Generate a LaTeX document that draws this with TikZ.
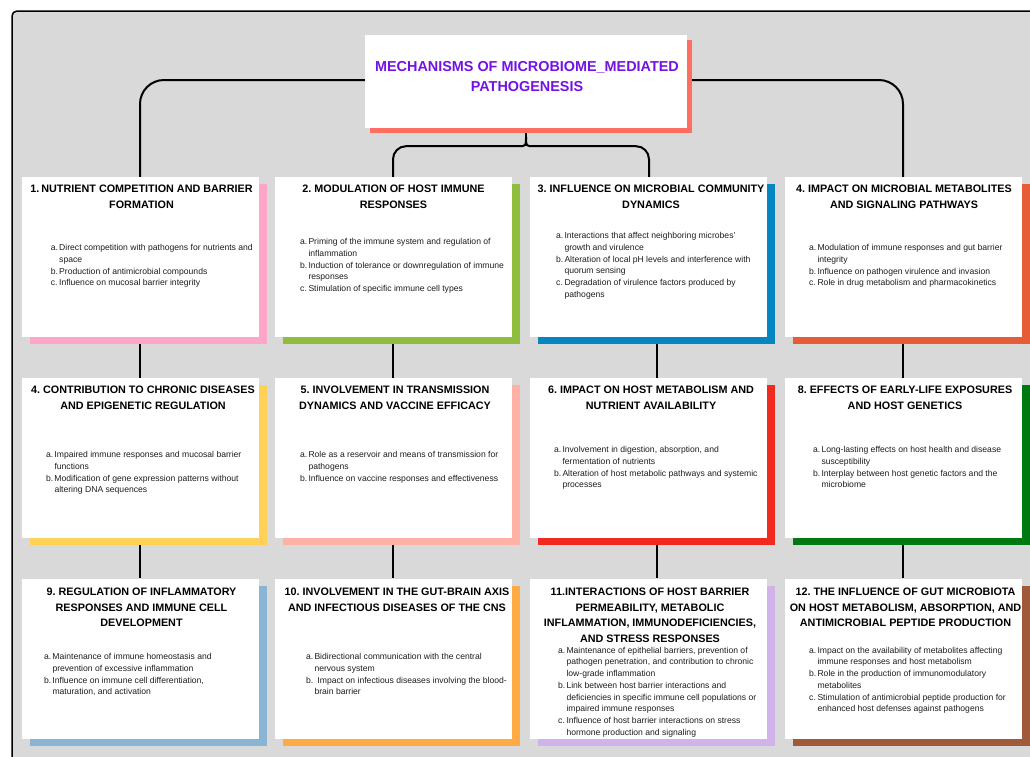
\documentclass[tikz,border=0pt]{standalone}
\usepackage{fontspec}
\setmainfont{Liberation Sans}
\usetikzlibrary{shadows}
\definecolor{panel}{HTML}{D9D9D9}
\definecolor{titleshadow}{HTML}{FF6E61}
\definecolor{titlecol}{HTML}{7412E6}
\definecolor{bodytext}{HTML}{1E1E1E}
\definecolor{c1}{HTML}{FFA6C8}
\definecolor{c2}{HTML}{8FBE3C}
\definecolor{c3}{HTML}{0586C0}
\definecolor{c4}{HTML}{E65C36}
\definecolor{c5}{HTML}{FFD257}
\definecolor{c6}{HTML}{FFB1A6}
\definecolor{c7}{HTML}{F02A1E}
\definecolor{c8}{HTML}{007A10}
\definecolor{c9}{HTML}{89B4D4}
\definecolor{c10}{HTML}{FFAB45}
\definecolor{c11}{HTML}{D1B3EC}
\definecolor{c12}{HTML}{A05A3A}
\pgfdeclarelayer{back}
\pgfdeclarelayer{lines}
\pgfsetlayers{back,lines,main}
\newcommand{\lbl}[1]{\makebox[8.3pt][l]{#1}}
\newcommand{\ind}{\hspace*{8.3pt}}
\frenchspacing
\begin{document}
\begin{tikzpicture}[x=1pt,y=-1pt,
  box/.style={fill=white, minimum width=237pt, minimum height=160pt, inner sep=0pt, draw=none},
  sh/.style={drop shadow={shadow xshift=8pt, shadow yshift=-7pt, fill=#1, opacity=1}},
  head/.style={font=\fontsize{10.8}{15.5}\selectfont\bfseries\frenchspacing, align=center, anchor=north, inner sep=0pt},
  body/.style={font=\fontsize{8.6}{11.9}\selectfont\frenchspacing, align=left, anchor=north west, inner sep=0pt, text=bodytext},
  conn/.style={line width=2pt, black}]
\useasboundingbox (0,0) rectangle (1030,756);
\begin{pgfonlayer}{back}
  \fill[white] (0,0) rectangle (1030,756);
  \draw[fill=panel, line width=1.5pt, rounded corners=5pt] (12,11) rectangle (1060,790);
\end{pgfonlayer}

% title
\node[fill=white, minimum width=322pt, minimum height=93pt, inner sep=0pt,
      drop shadow={shadow xshift=5pt, shadow yshift=-5pt, fill=titleshadow, opacity=1}] (title) at (526,81.5) {};
\node[font=\fontsize{14.4}{20}\selectfont\bfseries, text=titlecol, align=center, inner sep=0pt] (ttext) at (527,77)
  {MECHANISMS OF MICROBIOME\_MEDIATED\\PATHOGENESIS};

% boxes
\node[box, sh=c1] (b1) at (140,257) {};
\node[box, sh=c2] (b2) at (393,257) {};
\node[box, sh=c3] (b3) at (648.5,257) {};
\node[box, sh=c4] (b4) at (903,257) {};
\node[box, sh=c5] (b5) at (140,458) {};
\node[box, sh=c6] (b6) at (393,458) {};
\node[box, sh=c7] (b7) at (648.5,458) {};
\node[box, sh=c8] (b8) at (903,458) {};
\node[box, sh=c9] (b9) at (140,658.5) {};
\node[box, sh=c10] (b10) at (393,658.5) {};
\node[box, sh=c11] (b11) at (648.5,658.5) {};
\node[box, sh=c12] (b12) at (903,658.5) {};

% connectors
\begin{pgfonlayer}{lines}
  \draw[conn, rounded corners=24pt] ([yshift=1.5pt]title.west) -| (b1.north);
  \draw[conn, rounded corners=24pt] ([yshift=1.5pt]title.east) -| (b4.north);
  \coordinate (bt) at ([yshift=-9pt]title.south);
  \draw[conn] (title.south) -- (bt);
  \draw[conn] (bt) .. controls ([yshift=-9pt]bt) .. ([shift={(-8pt,-9pt)}]bt) [rounded corners=13pt] -| (b2.north);
  \draw[conn] (bt) .. controls ([yshift=-9pt]bt) .. ([shift={(8pt,-9pt)}]bt) [rounded corners=13pt] -| ([xshift=0.5pt]b3.north);
  \draw[conn] (b1.south) -- (b5.north);
  \draw[conn] (b5.south) -- (b9.north);
  \draw[conn] (b2.south) -- (b6.north);
  \draw[conn] (b6.south) -- (b10.north);
  \draw[conn] ([xshift=8.5pt]b3.south) -- ([xshift=8.5pt]b7.north);
  \draw[conn] ([xshift=8.5pt]b7.south) -- ([xshift=8.5pt]b11.north);
  \draw[conn] (b4.south) -- (b8.north);
  \draw[conn] (b8.south) -- (b12.north);
\end{pgfonlayer}

% headings
\node[head] (h1) at (141.5,185.1) {1.\hspace{2pt}NUTRIENT COMPETITION AND BARRIER\\FORMATION};
\node[head] (h2) at (393.5,185.1) {2. MODULATION OF HOST IMMUNE\\RESPONSES};
\node[head] (h3) at (651,185.1) {3. INFLUENCE ON MICROBIAL COMMUNITY\\DYNAMICS};
\node[head] (h4) at (904,185.1) {4. IMPACT ON MICROBIAL METABOLITES\\AND SIGNALING PATHWAYS};
\node[head] (h5) at (143,386.1) {4. CONTRIBUTION TO CHRONIC DISEASES\\AND EPIGENETIC REGULATION};
\node[head] (h6) at (395,386.1) {5. INVOLVEMENT IN TRANSMISSION\\DYNAMICS AND VACCINE EFFICACY};
\node[head] (h7) at (651,386.1) {6. IMPACT ON HOST METABOLISM AND\\NUTRIENT AVAILABILITY};
\node[head] (h8) at (905,386.1) {8. EFFECTS OF EARLY-LIFE EXPOSURES\\AND HOST GENETICS};
\node[head] (h9) at (141.5,588.1) {9. REGULATION OF INFLAMMATORY\\RESPONSES AND IMMUNE CELL\\DEVELOPMENT};
\node[head] (h10) at (397,588.1) {10. INVOLVEMENT IN THE GUT-BRAIN AXIS\\AND INFECTIOUS DISEASES OF THE CNS};
\node[head] (h11) at (650,588.1) {11.INTERACTIONS OF HOST BARRIER\\PERMEABILITY, METABOLIC\\INFLAMMATION, IMMUNODEFICIENCIES,\\AND STRESS RESPONSES};
\node[head] (h12) at (905.5,588.1) {12. THE INFLUENCE OF GUT MICROBIOTA\\ON HOST METABOLISM, ABSORPTION, AND\\ANTIMICROBIAL PEPTIDE PRODUCTION};

% bodies
\node[body] (t1) at (50.7,243.8) {\lbl{a.}Direct competition with pathogens for nutrients and\\\ind space\\\lbl{b.}Production of antimicrobial compounds\\\lbl{c.}Influence on mucosal barrier integrity};
\node[body] (t2) at (300,237.8) {\lbl{a.}Priming of the immune system and regulation of\\\ind inflammation\\\lbl{b.}Induction of tolerance or downregulation of immune\\\ind responses\\\lbl{c.}Stimulation of specific immune cell types};
\node[body] (t3) at (556,231.8) {\lbl{a.}Interactions that affect neighboring microbes'\\\ind growth and virulence\\\lbl{b.}Alteration of local pH levels and interference with\\\ind quorum sensing\\\lbl{c.}Degradation of virulence factors produced by\\\ind pathogens};
\node[body] (t4) at (809,243.8) {\lbl{a.}Modulation of immune responses and gut barrier\\\ind integrity\\\lbl{b.}Influence on pathogen virulence and invasion\\\lbl{c.}Role in drug metabolism and pharmacokinetics};
\node[body] (t5) at (46,450.8) {\lbl{a.}Impaired immune responses and mucosal barrier\\\ind functions\\\lbl{b.}Modification of gene expression patterns without\\\ind altering DNA sequences};
\node[body] (t6) at (300,450.8) {\lbl{a.}Role as a reservoir and means of transmission for\\\ind pathogens\\\lbl{b.}Influence on vaccine responses and effectiveness};
\node[body] (t7) at (554,445.8) {\lbl{a.}Involvement in digestion, absorption, and\\\ind fermentation of nutrients\\\lbl{b.}Alteration of host metabolic pathways and systemic\\\ind processes};
\node[body] (t8) at (813,445.8) {\lbl{a.}Long-lasting effects on host health and disease\\\ind susceptibility\\\lbl{b.}Interplay between host genetic factors and the\\\ind microbiome};
\node[body] (t9) at (44,652.8) {\lbl{a.}Maintenance of immune homeostasis and\\\ind prevention of excessive inflammation\\\lbl{b.}Influence on immune cell differentiation,\\\ind maturation, and activation};
\node[body] (t10) at (306,652.8) {\lbl{a.}Bidirectional communication with the central\\\ind nervous system\\\lbl{b.}\hspace{3pt}Impact on infectious diseases involving the blood-\\\ind brain barrier};
\node[body, font=\fontsize{8.6}{11.7}\selectfont\frenchspacing] (t11) at (558,646.8) {\lbl{a.}Maintenance of epithelial barriers, prevention of\\\ind pathogen penetration, and contribution to chronic\\\ind low-grade inflammation\\\lbl{b.}Link between host barrier interactions and\\\ind deficiencies in specific immune cell populations or\\\ind impaired immune responses\\\lbl{c.}Influence of host barrier interactions on stress\\\ind hormone production and signaling};
\node[body, font=\fontsize{8.6}{11.7}\selectfont\frenchspacing] (t12) at (809,646.8) {\lbl{a.}Impact on the availability of metabolites affecting\\\ind immune responses and host metabolism\\\lbl{b.}Role in the production of immunomodulatory\\\ind metabolites\\\lbl{c.}Stimulation of antimicrobial peptide production for\\\ind enhanced host defenses against pathogens};
\end{tikzpicture}
\end{document}
